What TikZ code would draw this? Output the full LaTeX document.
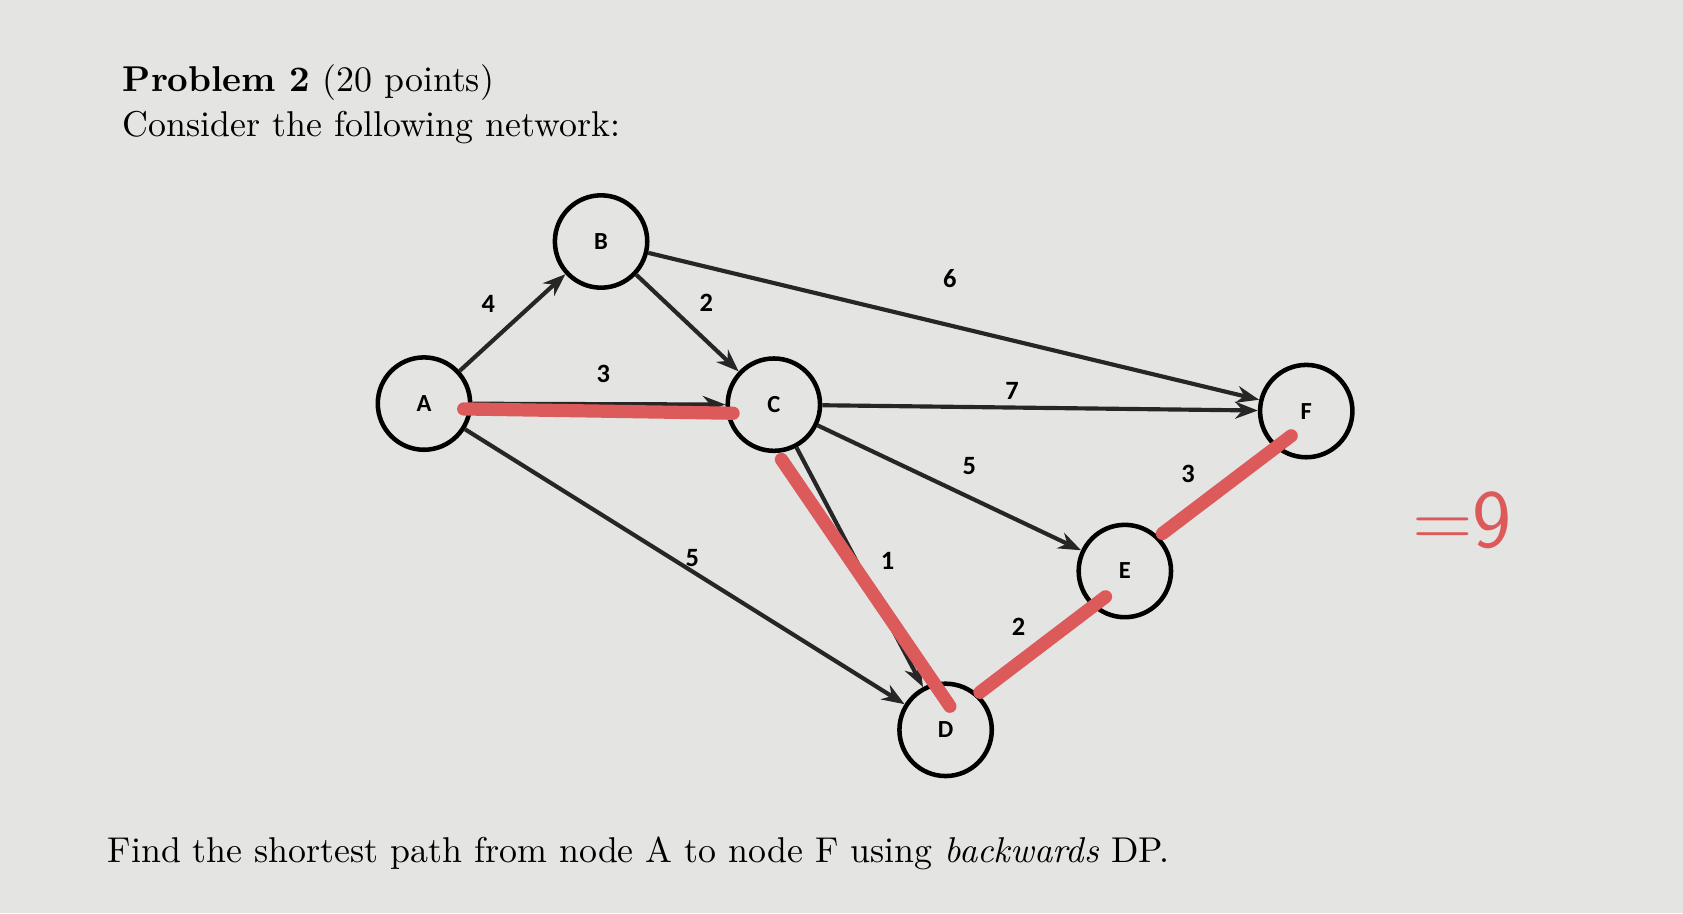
\documentclass[tikz,border=0pt]{standalone}
\usepackage{fontspec}
\newfontfamily\lab{Carlito}
\usetikzlibrary{arrows.meta}
\definecolor{bg}{HTML}{E4E4E2}
\definecolor{hl}{HTML}{DD5A5A}
\begin{document}
\begin{tikzpicture}[x=0.01cm,y=-0.01cm,
  nd/.style={circle,draw,line width=1.2pt,minimum size=0.86cm,inner sep=0pt,font=\lab\bfseries\fontsize{6.5}{8}\selectfont},
  ar/.style={line width=1.1pt,-{Stealth[length=6pt,width=4.5pt]},color=black!85},
  wl/.style={font=\lab\bfseries\fontsize{7}{8}\selectfont},
  rd/.style={line width=3.5pt,color=hl,line cap=round},
  tx/.style={anchor=west,font=\fontsize{9.5}{11}\selectfont}]
\fill[bg] (0,0) rectangle (1568,851);
\useasboundingbox (0,0) rectangle (1568,851);
\node[tx] (t1) at (102,77) {\textbf{Problem 2} (20 points)};
\node[tx] (t2) at (102,119) {Consider the following network:};
\node[tx] (t3) at (88,795) {Find the shortest path from node A to node F using \textit{backwards} DP.};
\node[nd] (A) at (395,376) {A};
\node[nd] (B) at (560,225) {B};
\node[nd] (C) at (721,377) {C};
\node[nd] (D) at (881,680) {D};
\node[nd] (E) at (1048,532) {E};
\node[nd] (F) at (1217,383) {F};
\draw[ar] (A) -- (B);
\draw[ar] (B) -- (C);
\draw[ar] (B) -- (F);
\draw[ar] (A) -- (C);
\draw[ar] (C) -- (F);
\draw[ar] (C) -- (E);
\draw[ar] (A) -- (D);
\draw[ar] (C) -- (D);
\node[wl] (l1) at (455,283) {4};
\node[wl] (l2) at (658,282) {2};
\node[wl] (l3) at (885,260) {6};
\node[wl] (l4) at (562,348) {3};
\node[wl] (l5) at (943,364) {7};
\node[wl] (l6) at (903,434) {5};
\node[wl] (l7) at (1107,442) {3};
\node[wl] (l8) at (645,520) {5};
\node[wl] (l9) at (827,523) {1};
\node[wl] (l10) at (949,584) {2};
\coordinate (r1) at (432,381); \coordinate (r2) at (683,385);
\coordinate (r3) at (728,428); \coordinate (r4) at (885,658);
\coordinate (r5) at (913,645); \coordinate (r6) at (1030,556);
\coordinate (r7) at (1083,497); \coordinate (r8) at (1203,406);
\draw[rd] (r1) -- (r2);
\draw[rd] (r3) -- (r4);
\draw[rd] (r5) -- (r6);
\draw[rd] (r7) -- (r8);
\node[font=\sffamily\fontsize{22}{24}\selectfont,color=hl] (res) at (1362,485) {=9};
\end{tikzpicture}
\end{document}
